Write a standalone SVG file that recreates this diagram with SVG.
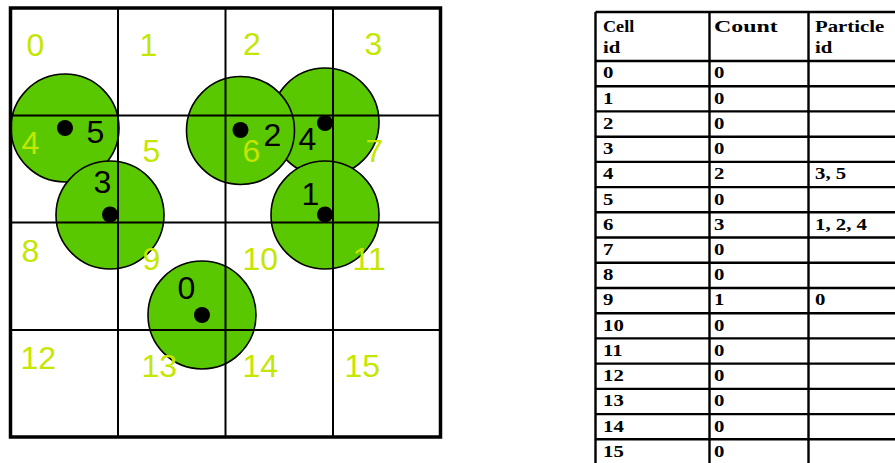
<svg xmlns="http://www.w3.org/2000/svg" width="895" height="463" viewBox="0 0 895 463">
<style>
.p{fill:#5ac800;stroke:#000;stroke-width:1.6}
.g{stroke:#000;stroke-width:2;fill:none}
.c{font-family:"Liberation Sans",Arial,sans-serif;font-size:32px;fill:#c4e600}
.k{font-family:"Liberation Sans",Arial,sans-serif;font-size:32px;fill:#000}
.d{fill:#000}
.t{stroke:#000;stroke-width:2.4;fill:none}
.x{font-family:"Liberation Serif","Times New Roman",serif;font-size:16px;font-weight:bold;fill:#000}
</style>
<rect width="895" height="463" fill="#fff"/>
<g id="particles">
<circle id="circle4" class="p" cx="325" cy="122" r="54"/>
<circle id="circle2" class="p" cx="240.5" cy="130.5" r="54"/>
<circle id="circle1" class="p" cx="325" cy="215" r="54"/>
<circle id="circle5" class="p" cx="65" cy="128" r="54"/>
<circle id="circle3" class="p" cx="110" cy="215" r="54"/>
<circle id="circle0" class="p" cx="202" cy="315" r="54"/>
</g>
<g id="grid">
<rect x="10.5" y="8" width="430" height="429" fill="none" stroke="#000" stroke-width="3.5"/>
<path class="g" d="M118 8V437M225.5 8V437M333 8V437M10.5 115.5H440.5M10.5 222.5H440.5M10.5 330H440.5"/>
</g>
<g id="cell-labels">
<text class="c" x="26.5" y="56">0</text>
<text class="c" x="139.5" y="56">1</text>
<text class="c" x="243" y="55">2</text>
<text class="c" x="364.5" y="55">3</text>
<text class="c" x="21.5" y="154">4</text>
<text class="c" x="142.5" y="162">5</text>
<text class="c" x="242.5" y="162">6</text>
<text class="c" x="365.5" y="162">7</text>
<text class="c" x="21.5" y="262">8</text>
<text class="c" x="142.5" y="270">9</text>
<text class="c" x="242.5" y="270">10</text>
<text class="c" x="352.5" y="270">11</text>
<text class="c" x="20.5" y="369">12</text>
<text class="c" x="141.5" y="377">13</text>
<text class="c" x="242.5" y="377">14</text>
<text class="c" x="344.5" y="377">15</text>
</g>
<g id="particle-centres">
<circle class="d" cx="65" cy="128" r="8"/>
<circle class="d" cx="240.5" cy="130" r="8"/>
<circle class="d" cx="325" cy="123" r="8"/>
<circle class="d" cx="110" cy="214.5" r="8"/>
<circle class="d" cx="325" cy="214.5" r="8"/>
<circle class="d" cx="202" cy="315" r="8"/>
<text class="k" x="86.5" y="143">5</text>
<text class="k" x="263.5" y="146">2</text>
<text class="k" x="298.5" y="150">4</text>
<text class="k" x="93.5" y="193">3</text>
<text class="k" x="301.5" y="205">1</text>
<text class="k" x="177.5" y="299">0</text>
</g>
<g id="table">
<path class="t" d="M595.5 12V465M709.5 12V465M808.5 12V465M595.5 12H900M595.5 61H900M595.5 86.2H900M595.5 111.4H900M595.5 136.7H900M595.5 161.9H900M595.5 187.1H900M595.5 212.3H900M595.5 237.5H900M595.5 262.8H900M595.5 288H900M595.5 313.2H900M595.5 338.4H900M595.5 363.6H900M595.5 388.9H900M595.5 414.1H900M595.5 439.3H900"/>
<g id="col-cell" transform="translate(603,0) scale(1.3,1)">
<text class="x" x="0" y="32" textLength="24" lengthAdjust="spacingAndGlyphs">Cell</text>
<text class="x" x="0" y="53">id</text>
<text class="x" x="0" y="78.5">0</text>
<text class="x" x="0" y="103.7">1</text>
<text class="x" x="0" y="128.9">2</text>
<text class="x" x="0" y="154.2">3</text>
<text class="x" x="0" y="179.4">4</text>
<text class="x" x="0" y="204.6">5</text>
<text class="x" x="0" y="229.8">6</text>
<text class="x" x="0" y="255">7</text>
<text class="x" x="0" y="280.3">8</text>
<text class="x" x="0" y="305.5">9</text>
<text class="x" x="0" y="330.7">10</text>
<text class="x" x="0" y="355.9">11</text>
<text class="x" x="0" y="381.1">12</text>
<text class="x" x="0" y="406.4">13</text>
<text class="x" x="0" y="431.6">14</text>
<text class="x" x="0" y="456.8">15</text>
</g>
<g id="col-count" transform="translate(714,0) scale(1.3,1)">
<text class="x" x="0" y="32" textLength="49" lengthAdjust="spacingAndGlyphs">Count</text>
<text class="x" x="0" y="78.5">0</text>
<text class="x" x="0" y="103.7">0</text>
<text class="x" x="0" y="128.9">0</text>
<text class="x" x="0" y="154.2">0</text>
<text class="x" x="0" y="179.4">2</text>
<text class="x" x="0" y="204.6">0</text>
<text class="x" x="0" y="229.8">3</text>
<text class="x" x="0" y="255">0</text>
<text class="x" x="0" y="280.3">0</text>
<text class="x" x="0" y="305.5">1</text>
<text class="x" x="0" y="330.7">0</text>
<text class="x" x="0" y="355.9">0</text>
<text class="x" x="0" y="381.1">0</text>
<text class="x" x="0" y="406.4">0</text>
<text class="x" x="0" y="431.6">0</text>
<text class="x" x="0" y="456.8">0</text>
</g>
<g id="col-particle" transform="translate(815,0) scale(1.3,1)">
<text class="x" x="0" y="32">Particle</text>
<text class="x" x="0" y="53">id</text>
<text class="x" x="0" y="179.4">3, 5</text>
<text class="x" x="0" y="229.8">1, 2, 4</text>
<text class="x" x="0" y="305.5">0</text>
</g>
</g>
</svg>
